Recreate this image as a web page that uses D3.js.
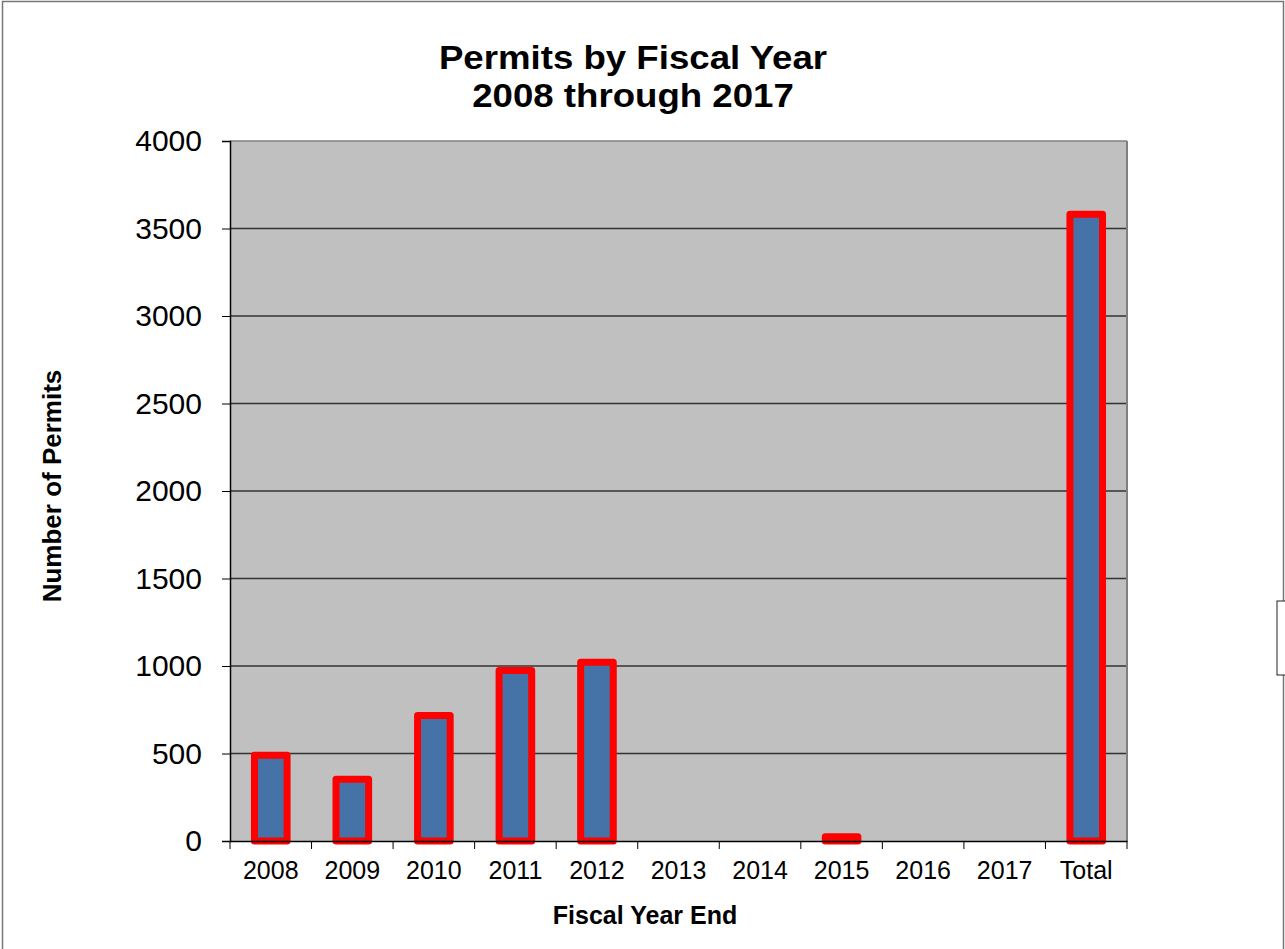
<!DOCTYPE html>
<html>
<head>
<meta charset="utf-8">
<script src="https://cdn.jsdelivr.net/npm/d3@7"></script>
<style>
  body { margin: 0; background: #fff; }
  text { font-family: Arial, "Liberation Sans", sans-serif; }
</style>
</head>
<body>
<svg width="1285" height="949"></svg>
<script>
var years = ["2008","2009","2010","2011","2012","2013","2014","2015","2016","2017","Total"]
var permits = [490, 353, 717, 975, 1022, 0, 0, 25, 0, 0, 3582]
var yTicks = [0, 500, 1000, 1500, 2000, 2500, 3000, 3500, 4000]

var screen = {width: 1285, height: 949}
var plot = {left: 230, right: 1127, top: 141, bottom: 841}

var svg = d3.select("svg")

// outer chart border
svg.append("rect")
   .attr("x", 2.5).attr("y", 1.5)
   .attr("width", screen.width - 4).attr("height", screen.height)
   .attr("fill", "none").attr("stroke", "#777").attr("stroke-width", 1.5)

var xScale = d3.scaleBand()
               .domain(years)
               .range([plot.left, plot.right])

var yScale = d3.scaleLinear()
               .domain([0, 4000])
               .range([plot.bottom, plot.top])

// plot background
svg.append("rect")
   .attr("x", plot.left).attr("y", plot.top)
   .attr("width", plot.right - plot.left).attr("height", plot.bottom - plot.top)
   .attr("fill", "#c0c0c0")

// gridlines
svg.selectAll("line.grid")
   .data(yTicks.slice(1))
   .enter()
   .append("line")
   .attr("class", "grid")
   .attr("x1", plot.left).attr("x2", plot.right)
   .attr("y1", function(d){return yScale(d);})
   .attr("y2", function(d){return yScale(d);})
   .attr("stroke", function(d){return d == 4000 ? "#808080" : "#333";})
   .attr("stroke-width", 1.3)

// right border of plot
svg.append("line")
   .attr("x1", plot.right).attr("x2", plot.right)
   .attr("y1", plot.top).attr("y2", plot.bottom)
   .attr("stroke", "#808080").attr("stroke-width", 2)

// bars
var barW = xScale.bandwidth() / 2.5
svg.selectAll("rect.bar")
   .data(permits)
   .enter()
   .append("rect")
   .attr("class", "bar")
   .attr("x", function(d,i){return xScale(years[i]) + xScale.bandwidth()/2 - barW/2;})
   .attr("y", function(d){return yScale(d);})
   .attr("width", barW)
   .attr("height", function(d){return yScale(0) - yScale(d);})
   .attr("fill", "#4573a7")
   .attr("stroke", "#ff0000")
   .attr("stroke-width", 7)
   .attr("stroke-linejoin", "round")
   .attr("display", function(d){return d > 0 ? null : "none";})

// y axis
var yAxis = svg.append("g")
   .attr("transform", "translate(" + plot.left + ",0)")
   .call(d3.axisLeft(yScale).tickValues(yTicks).tickFormat(d3.format("d")).tickSize(8).tickPadding(20))
yAxis.select(".domain").attr("stroke", "#000").attr("stroke-width", 1.5)
yAxis.selectAll(".tick line").attr("stroke", "#000")
yAxis.selectAll(".tick text")
     .attr("font-family", "Arial, 'Liberation Sans', sans-serif")
     .attr("font-size", 30).attr("fill", "#000")

// x axis, ticks sit on category boundaries
var xAxis = svg.append("g")
   .attr("transform", "translate(0," + plot.bottom + ")")
   .call(d3.axisBottom(xScale).tickSize(0).tickPadding(20))
xAxis.select(".domain").attr("stroke", "#000").attr("stroke-width", 1.5)
xAxis.selectAll(".tick text")
     .attr("font-family", "Arial, 'Liberation Sans', sans-serif")
     .attr("font-size", 25).attr("fill", "#000")
xAxis.selectAll("line.cat")
     .data(years.concat(["end"]))
     .enter()
     .append("line")
     .attr("class", "cat")
     .attr("x1", function(d,i){return plot.left + i * xScale.step();})
     .attr("x2", function(d,i){return plot.left + i * xScale.step();})
     .attr("y1", 0).attr("y2", 8)
     .attr("stroke", "#000")

// titles (reference text is a bit wider than plain Arial)
var title = svg.append("text")
   .attr("transform", "translate(633,0) scale(1.11,1)")
   .attr("text-anchor", "middle")
   .attr("font-weight", "bold")
   .attr("font-size", 33)
title.append("tspan").attr("x", 0).attr("y", 69).text("Permits by Fiscal Year")
title.append("tspan").attr("x", 0).attr("y", 107).text("2008 through 2017")

svg.append("text")
   .attr("x", 645).attr("y", 924)
   .attr("text-anchor", "middle")
   .attr("font-weight", "bold")
   .attr("font-size", 25)
   .text("Fiscal Year End")

svg.append("text")
   .attr("transform", "translate(61,486) rotate(-90)")
   .attr("text-anchor", "middle")
   .attr("font-weight", "bold")
   .attr("font-size", 26)
   .text("Number of Permits")

// cut-off legend box at the right edge
svg.append("rect")
   .attr("x", 1277).attr("y", 601)
   .attr("width", 10).attr("height", 74)
   .attr("fill", "#fff").attr("stroke", "#222").attr("stroke-width", 1)
</script>
</body>
</html>
